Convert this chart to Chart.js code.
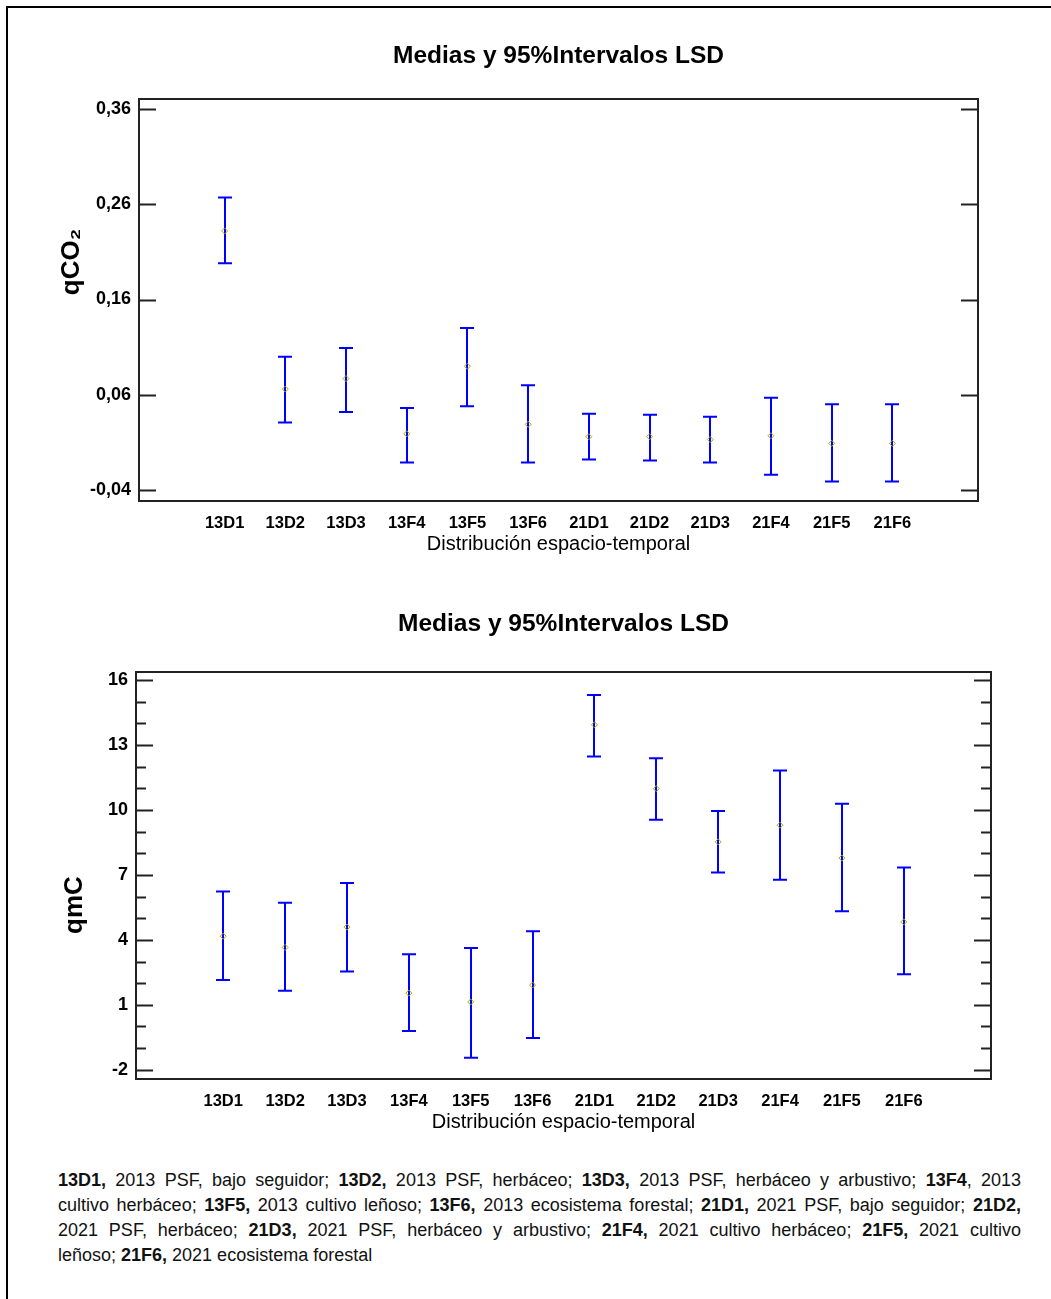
<!DOCTYPE html>
<html>
<head>
<meta charset="utf-8">
<script src="https://cdn.jsdelivr.net/npm/chart.js@4.4.1/dist/chart.umd.min.js"></script>
<style>
html, body { margin: 0; padding: 0; background: #fff; overflow: hidden; }
body { width: 1051px; height: 1299px; position: relative; font-family: Arial, "Liberation Sans", sans-serif; }
#frame { position: absolute; left: 6px; top: 6px; width: 1100px; height: 1400px; border-left: 2px solid #000; border-top: 2px solid #000; }
#c1 { position: absolute; left: 0; top: 0; }
#c2 { position: absolute; left: 0; top: 570px; }
.note { position: absolute; left: 58px; top: 1168px; width: 963px; font-size: 18px; line-height: 25px; color: #111; }
.note div { text-align: justify; text-align-last: justify; }
.note div.last { text-align-last: left; }
</style>
</head>
<body>
<div id="frame"></div>
<canvas id="c1" width="1051" height="570"></canvas>
<canvas id="c2" width="1051" height="590"></canvas>
<div class="note">
<div><b>13D1,</b> 2013 PSF, bajo seguidor; <b>13D2,</b> 2013 PSF, herbáceo; <b>13D3,</b> 2013 PSF, herbáceo y arbustivo; <b>13F4</b>, 2013</div>
<div>cultivo herbáceo; <b>13F5,</b> 2013 cultivo leñoso; <b>13F6,</b> 2013 ecosistema forestal; <b>21D1,</b> 2021 PSF, bajo seguidor; <b>21D2,</b></div>
<div>2021 PSF, herbáceo; <b>21D3,</b> 2021 PSF, herbáceo y arbustivo; <b>21F4,</b> 2021 cultivo herbáceo; <b>21F5,</b> 2021 cultivo</div>
<div class="last">leñoso; <b>21F6,</b> 2021 ecosistema forestal</div>
</div>
<script>
// categories on the x axis (both charts)
const categories = ['13D1', '13D2', '13D3', '13F4', '13F5', '13F6', '21D1', '21D2', '21D3', '21F4', '21F5', '21F6'];

// qCO2: means and 95% LSD limits
const qco2Mean = [0.232, 0.066, 0.077, 0.019, 0.090, 0.029, 0.016, 0.016, 0.013, 0.017, 0.009, 0.009];
const qco2Low  = [0.198, 0.031, 0.042, -0.011, 0.048, -0.011, -0.008, -0.009, -0.011, -0.024, -0.031, -0.031];
const qco2High = [0.267, 0.100, 0.109, 0.046, 0.130, 0.070, 0.040, 0.039, 0.037, 0.057, 0.050, 0.050];
const qco2Ticks = [-0.04, 0.06, 0.16, 0.26, 0.36];

// qmC: means and 95% LSD limits
const qmcMean = [4.17, 3.65, 4.59, 1.54, 1.13, 1.91, 13.94, 10.99, 8.53, 9.30, 7.78, 4.83];
const qmcLow  = [2.14, 1.65, 2.54, -0.21, -1.45, -0.53, 12.48, 9.55, 7.11, 6.78, 5.32, 2.41];
const qmcHigh = [6.23, 5.71, 6.63, 3.34, 3.62, 4.40, 15.32, 12.39, 9.96, 11.83, 10.29, 7.34];
const qmcTicks = [-2, 1, 4, 7, 10, 13, 16];
const qmcMinor = [-1, 0, 2, 3, 5, 6, 8, 9, 11, 12, 14, 15];

const titleText = 'Medias y 95%Intervalos LSD';
const xTitle = 'Distribución espacio-temporal';
const fontFam = 'Arial, "Liberation Sans", sans-serif';

// blue whiskers, drawn under the mean markers
const errorBars = {
    id: 'errorBars',
    beforeDatasetsDraw(chart) {
        const ctx = chart.ctx;
        const x = chart.scales.x, y = chart.scales.y;
        const ds = chart.data.datasets[0];
        ctx.save();
        ctx.strokeStyle = '#0000ff';
        ctx.lineWidth = 2;
        ds.low.forEach(function (lo, i) {
            const px = Math.round(x.getPixelForValue(i));
            const pLo = y.getPixelForValue(lo);
            const pHi = y.getPixelForValue(ds.high[i]);
            ctx.beginPath();
            ctx.moveTo(px, pHi); ctx.lineTo(px, pLo);
            ctx.moveTo(px - 7, pHi); ctx.lineTo(px + 7, pHi);
            ctx.moveTo(px - 7, pLo); ctx.lineTo(px + 7, pLo);
            ctx.stroke();
        });
        ctx.restore();
    }
};

// box, inside tick marks and rotated y title
function makeFrame(major, minor, yTitle, tx, ty) {
    return {
        id: 'frame',
        afterDraw(chart) {
            const ctx = chart.ctx, a = chart.chartArea, y = chart.scales.y;
            ctx.save();
            ctx.strokeStyle = '#222';
            ctx.lineWidth = 2;
            ctx.strokeRect(a.left, a.top, a.right - a.left, a.bottom - a.top);
            ctx.beginPath();
            function ticks(vals, len) {
                vals.forEach(function (v) {
                    const py = Math.round(y.getPixelForValue(v)) + 0.5;
                    ctx.moveTo(a.left, py); ctx.lineTo(a.left + len, py);
                    ctx.moveTo(a.right, py); ctx.lineTo(a.right - len, py);
                });
            }
            ticks(major, 17);
            ticks(minor, 10);
            ctx.stroke();
            ctx.translate(tx, ty);
            ctx.rotate(-Math.PI / 2);
            ctx.fillStyle = '#000';
            ctx.font = 'bold 26px ' + fontFam;
            ctx.textAlign = 'center';
            ctx.textBaseline = 'middle';
            ctx.fillText(yTitle, 0, 0);
            ctx.restore();
        }
    };
}

function makeChart(id, mean, low, high, yMin, yMax, yTicks, yMinor, fmt, yTitle, tx, ty, box) {
    return new Chart(document.getElementById(id), {
        type: 'scatter',
        data: {
            datasets: [{
                data: mean.map(function (m, i) { return { x: i, y: m }; }),
                low: low,
                high: high,
                pointStyle: 'rectRot',
                radius: 3,
                borderWidth: 1,
                borderColor: '#a8a800',
                backgroundColor: 'rgba(255,255,255,0)'
            }]
        },
        options: {
            responsive: false,
            animation: false,
            layout: { padding: { left: 0, right: box.right, top: 20, bottom: box.bottom } },
            plugins: {
                legend: { display: false },
                tooltip: { enabled: false },
                title: {
                    display: true,
                    text: titleText,
                    fullSize: false,
                    color: '#000',
                    font: { family: fontFam, size: 24.5, weight: 'bold' },
                    padding: { top: box.tTop, bottom: box.tBottom }
                }
            },
            scales: {
                x: {
                    type: 'linear',
                    position: 'bottom',
                    min: -1.41,
                    max: 12.41,
                    afterBuildTicks: function (s) { s.ticks = categories.map(function (c, i) { return { value: i }; }); },
                    afterFit: function (s) { s.height = 60; },
                    grid: { display: false },
                    border: { display: false },
                    ticks: {
                        autoSkip: false,
                        maxRotation: 0,
                        padding: 5,
                        color: '#000',
                        font: { family: fontFam, size: 16.5, weight: 'bold' },
                        callback: function (v) { return categories[v]; }
                    },
                    title: {
                        display: true,
                        text: xTitle,
                        color: '#000',
                        font: { family: fontFam, size: 20 },
                        padding: { top: 0, bottom: 5 }
                    }
                },
                y: {
                    min: yMin,
                    max: yMax,
                    afterBuildTicks: function (s) { s.ticks = yTicks.map(function (v) { return { value: v }; }); },
                    afterFit: function (s) { s.width = box.left; },
                    grid: { display: false },
                    border: { display: false },
                    ticks: {
                        padding: 0,
                        color: '#000',
                        font: { family: fontFam, size: 18, weight: 'bold' },
                        callback: fmt
                    }
                }
            }
        },
        plugins: [errorBars, makeFrame(yTicks, yMinor, yTitle, tx, ty)]
    });
}

makeChart('c1', qco2Mean, qco2Low, qco2High, -0.0515, 0.3705, qco2Ticks, [],
    function (v) { return v.toFixed(2).replace('.', ','); },
    'qCO₂', 72, 262,
    { left: 139, right: 73, bottom: 9, tTop: 21.5, tBottom: 28.1 });

makeChart('c2', qmcMean, qmcLow, qmcHigh, -2.43, 16.38, qmcTicks, qmcMinor,
    function (v) { return String(v); },
    'qmC', 75, 335,
    { left: 136, right: 60, bottom: 21, tTop: 20, tBottom: 32.6 });
</script>
</body>
</html>
